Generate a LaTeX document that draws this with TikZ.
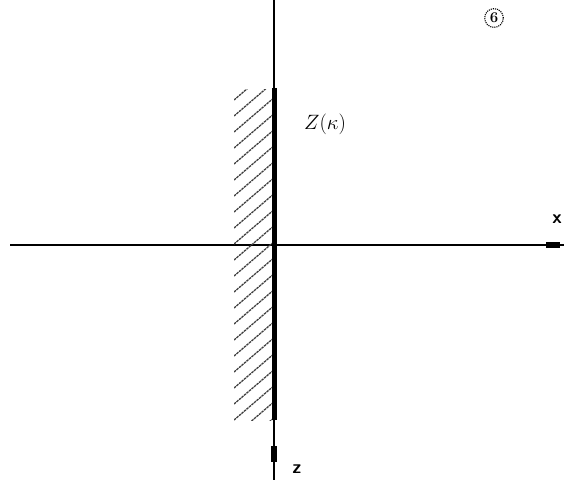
\documentclass[tikz,border=0pt]{standalone}
\usetikzlibrary{calc}
\begin{document}
\begin{tikzpicture}[x=1pt,y=-1pt,
  axis/.style={line width=1.3pt,black},
  wall/.style={line width=5pt,black},
  tip/.style={line width=5.5pt,black},
  hatch/.style={line width=1.3pt,black!75,dash pattern=on 2.5pt off 0.8pt},
  lbl/.style={inner sep=0pt,font=\sffamily\bfseries\fontsize{19}{20}\selectfont}]
\useasboundingbox (0,0) rectangle (564,483);
% axes
\coordinate (ztop) at (274,0);
\coordinate (zbot) at (274,480);
\coordinate (xl) at (10,245);
\coordinate (xr) at (564,245);
\draw[axis] (ztop) -- (zbot);
\draw[axis] (xl) -- (xr);
% axis end markers
\coordinate (xm1) at (546,245);
\coordinate (xm2) at (560,245);
\draw[tip] (xm1) -- (xm2);
\coordinate (zm1) at (274,446);
\coordinate (zm2) at (274,462);
\draw[tip] (zm1) -- (zm2);
% hatching
\begin{scope}
\clip (234,89) rectangle (274,420);
\foreach \k in {0,...,24}{
  \draw[hatch] (234,{100+16*\k}) -- ++(42,-36);
}
\end{scope}
% wall
\coordinate (w1) at (274.5,88);
\coordinate (w2) at (274.5,420);
\draw[wall] (w1) -- (w2);
% labels
\node[inner sep=0pt,font=\fontsize{21}{24}\selectfont] (zk) at (325,124) {$Z(\kappa)$};
\node[lbl] (xlab) at (557,219) {x};
\node[lbl] (zlab) at (297,469) {z};
\node[draw,circle,densely dotted,line width=1.1pt,inner sep=2pt,font=\bfseries\fontsize{15}{16}\selectfont] (six) at (494,18) {6};
\end{tikzpicture}
\end{document}
